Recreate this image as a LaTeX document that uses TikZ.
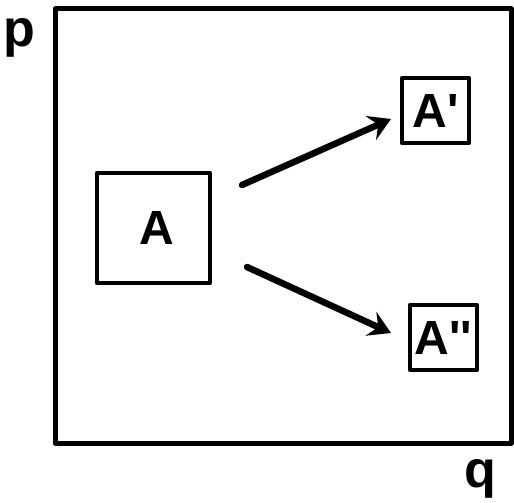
\documentclass[tikz,border=0pt]{standalone}
\usepackage{fontspec}
\newfontfamily\lab{Liberation Sans}[Ligatures=NoCommon]
\usetikzlibrary{arrows.meta}
\begin{document}
\begin{tikzpicture}[x=1pt,y=-1pt,
  line join=round, line cap=round,
  frame/.style={draw, line width=5pt},
  box/.style={draw, line width=4.5pt, inner sep=0pt, font=\lab\bfseries\fontsize{48}{48}\selectfont},
  lbl/.style={font=\lab\bfseries\fontsize{52}{52}\selectfont, inner sep=0pt},
  arr/.style={line width=6.5pt, -{Stealth[length=22pt,width=26pt,inset=8pt]}}]
\useasboundingbox (0,0) rectangle (514,503);
\draw[frame] (55,9) rectangle (511,443);
\node[lbl] (p) at (19,38) {p};
\node[lbl] (q) at (480,479) {q};
\node[box, minimum width=113pt, minimum height=110pt, text width=113pt, align=center] (A) at (153.5,228) {\hspace*{6pt}A};
\node[box, minimum width=67pt, minimum height=65pt] (A1) at (435.5,110.5) {A\char"0027};
\node[box, minimum width=67pt, minimum height=65pt] (A2) at (443.5,337.5) {A\char"0027\char"0027};
\coordinate (s1) at (242,185);
\coordinate (e1) at (391,119);
\coordinate (s2) at (247,267);
\coordinate (e2) at (391,333);
\draw[arr] (s1) -- (e1);
\draw[arr] (s2) -- (e2);
\end{tikzpicture}
\end{document}
